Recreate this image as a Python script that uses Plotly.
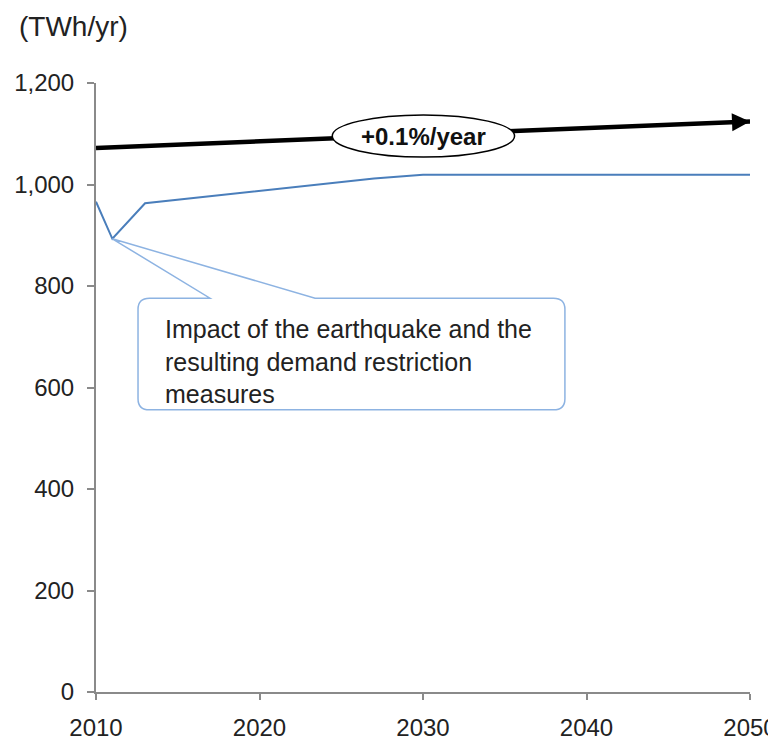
import plotly.graph_objects as go

# ---- data ----
years = [2010, 2011, 2013, 2015, 2020, 2025, 2027, 2030, 2035, 2040, 2045, 2050]
demand = [966, 893, 963, 970, 988, 1005, 1012, 1019, 1019, 1019, 1019, 1019]

trend_years = [2010, 2050]
trend_values = [1072, 1124]

x_ticks = [2010, 2020, 2030, 2040, 2050]
y_ticks = [0, 200, 400, 600, 800, 1000, 1200]

trend_label = "+0.1%/year"
callout_text = "Impact of the earthquake and the<br>resulting demand restriction<br>measures"
unit_label = "(TWh/yr)"

FONT = "Liberation Sans, Arial, sans-serif"
BLUE = "#4a7ebb"
CALLOUT = "#8db3e2"
AXIS = "#8a8a8a"
TXT = "#222222"

fig = go.Figure()

# blue demand line
fig.add_trace(go.Scatter(x=years, y=demand, mode="lines",
                         line=dict(color=BLUE, width=2), hoverinfo="skip",
                         showlegend=False))
# black trend line
fig.add_trace(go.Scatter(x=trend_years, y=trend_values, mode="lines",
                         line=dict(color="#000000", width=4.5), hoverinfo="skip",
                         showlegend=False))

shapes = []
# ellipse label background
shapes.append(dict(type="circle", xref="x", yref="y",
                   x0=2024.45, x1=2035.6, y0=1054, y1=1137,
                   line=dict(color="#000000", width=1.5),
                   fillcolor="white", layer="above"))

# callout box with pointer (rounded rectangle)
bx0, bx1 = 2012.57, 2038.68
by0, by1 = 556, 776
rx, ry = 0.7, 22
p1, p2 = 2016.97, 2023.4
tip_x, tip_y = years[1], demand[1]
path = (f"M {bx0+rx},{by1} L {p1},{by1} L {tip_x},{tip_y} L {p2},{by1} "
        f"L {bx1-rx},{by1} Q {bx1},{by1} {bx1},{by1-ry} "
        f"L {bx1},{by0+ry} Q {bx1},{by0} {bx1-rx},{by0} "
        f"L {bx0+rx},{by0} Q {bx0},{by0} {bx0},{by0+ry} "
        f"L {bx0},{by1-ry} Q {bx0},{by1} {bx0+rx},{by1} Z")
shapes.append(dict(type="path", xref="x", yref="y", path=path,
                   line=dict(color=CALLOUT, width=1.5),
                   fillcolor="rgba(255,255,255,0)", layer="above"))

# figure geometry (page body has an 8px margin)
W, H = 768, 734
ml, mr, mt, mb = 88, 26, 75, 50
pw, ph = W - ml - mr, H - mt - mb

annotations = [
    dict(x=trend_years[1], y=trend_values[1], xref="x", yref="y",
         ax=trend_years[1] - 1.0, ay=trend_values[1] - 1.3, axref="x", ayref="y",
         showarrow=True, arrowhead=2, arrowsize=0.8, arrowwidth=4.5,
         arrowcolor="#000000", text=""),
    dict(x=2030.0, y=1095, xref="x", yref="y", text=f"<b>{trend_label}</b>",
         showarrow=False, font=dict(family=FONT, size=24, color="#111111")),
    dict(x=2014.1, y=652, xref="x", yref="y", text=callout_text,
         showarrow=False, xanchor="left", yanchor="middle", align="left",
         font=dict(family=FONT, size=25, color=TXT)),
    dict(x=(9 - ml) / pw, y=(H - mb - 18) / ph, xref="paper", yref="paper", text=unit_label,
         showarrow=False, xanchor="left", yanchor="middle",
         font=dict(family=FONT, size=28, color=TXT)),
]

fig.update_layout(
    width=W, height=H,
    margin=dict(l=ml, r=mr, t=mt, b=mb, autoexpand=False),
    paper_bgcolor="white", plot_bgcolor="white",
    shapes=shapes, annotations=annotations,
    font=dict(family=FONT, size=24, color=TXT),
    showlegend=False,
)
fig.update_xaxes(range=[2010, 2050], tickvals=x_ticks, ticktext=[str(v) for v in x_ticks],
                 showgrid=False, zeroline=False, showline=True, linecolor=AXIS, linewidth=2,
                 ticks="outside", ticklen=6, tickwidth=2, tickcolor=AXIS,
                 tickfont=dict(family=FONT, size=24, color=TXT),
                 ticklabelstandoff=7, automargin=False, ticklabeloverflow="allow")
fig.update_yaxes(range=[0, 1200], tickvals=y_ticks, tickformat=",d",
                 showgrid=False, zeroline=False, showline=True, linecolor=AXIS, linewidth=2,
                 ticks="outside", ticklen=7, tickwidth=2, tickcolor=AXIS,
                 tickfont=dict(family=FONT, size=24, color=TXT),
                 ticklabelstandoff=8, automargin=False, ticklabeloverflow="allow")

fig.write_html("out.html")
